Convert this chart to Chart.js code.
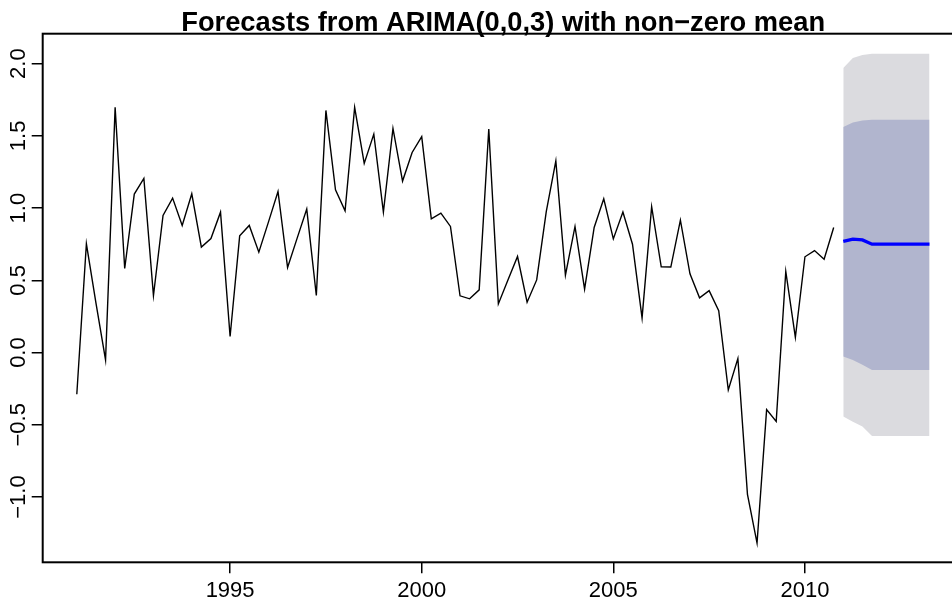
<!DOCTYPE html>
<html>
<head>
<meta charset="utf-8">
<script src="https://cdn.jsdelivr.net/npm/chart.js@4.4.1/dist/chart.umd.min.js"></script>
<style>
html, body { margin: 0; padding: 0; background: #fff; overflow: hidden; }
#wrap { width: 967px; height: 603px; }
</style>
</head>
<body>
<div id="wrap"><canvas id="myChart" width="967" height="603"></canvas></div>
<script>
// Title and axis ticks
var chartTitle = 'Forecasts from ARIMA(0,0,3) with non\u2212zero mean';
var xTicks = [1995, 2000, 2005, 2010];
var yTicks = [-1, -0.5, 0, 0.5, 1, 1.5, 2];
var yTickLabels = ['\u22121.0', '\u22120.5', '0.0', '0.5', '1.0', '1.5', '2.0'];

// Quarterly series, starts 1991 Q1
var tsStart = 1991;
var tsFreq = 4;
var observed = [
    -0.288, 0.753, 0.342, -0.051, 1.697, 0.582, 1.097, 1.205,
    0.395, 0.949, 1.069, 0.880, 1.099, 0.730, 0.789, 0.972,
    0.111, 0.808, 0.880, 0.695, 0.903, 1.115, 0.589, 0.792,
    0.993, 0.395, 1.676, 1.127, 0.981, 1.697, 1.309, 1.512,
    0.972, 1.551, 1.187, 1.385, 1.494, 0.926, 0.965, 0.873,
    0.393, 0.372, 0.434, 1.547, 0.337, 0.503, 0.665, 0.349,
    0.503, 0.976, 1.327, 0.536, 0.873, 0.439, 0.866, 1.064,
    0.787, 0.973, 0.750, 0.240, 1.010, 0.594, 0.592, 0.916,
    0.545, 0.379, 0.429, 0.290, -0.259, -0.042, -0.981, -1.318,
    -0.395, -0.477, 0.562, 0.105, 0.663, 0.706, 0.646, 0.866
];

// Forecasts, starts 2011 Q1
var fcStart = 2011;
var fcMean = [0.769, 0.785, 0.780, 0.750, 0.750, 0.750, 0.750, 0.750, 0.750, 0.750];
var lo80 = [-0.028, -0.051, -0.085, -0.120, -0.120, -0.120, -0.120, -0.120, -0.120, -0.120];
var hi80 = [1.561, 1.593, 1.607, 1.612, 1.612, 1.612, 1.612, 1.612, 1.612, 1.612];
var lo95 = [-0.443, -0.478, -0.512, -0.577, -0.577, -0.577, -0.577, -0.577, -0.577, -0.577];
var hi95 = [1.969, 2.039, 2.059, 2.069, 2.069, 2.069, 2.069, 2.069, 2.069, 2.069];

// Turn a value list into {x, y} points on the time axis
function toPoints(values, start) {
    return values.map(function(v, i) {
        return {x: start + i / tsFreq, y: v};
    });
}

var tickFont = {family: '"Liberation Sans", Arial, Helvetica, sans-serif', size: 22};

// Box, title and rotated y labels, like base R graphics
var rPlotDecor = {
    id: 'rPlotDecor',
    afterDraw: function(chart) {
        var ctx = chart.ctx;
        var a = chart.chartArea;
        ctx.save();
        ctx.strokeStyle = '#000';
        ctx.lineWidth = 2;
        ctx.strokeRect(a.left, a.top, a.right - a.left, a.bottom - a.top);

        ctx.fillStyle = '#000';
        ctx.font = 'bold 27.3px "Liberation Sans", Arial, Helvetica, sans-serif';
        ctx.textAlign = 'center';
        ctx.textBaseline = 'alphabetic';
        ctx.fillText(chartTitle, (a.left + a.right) / 2, 30.8);

        var ys = chart.scales.y;
        ctx.font = '22px "Liberation Sans", Arial, Helvetica, sans-serif';
        yTicks.forEach(function(v, i) {
            ctx.save();
            ctx.translate(a.left - 17.7, ys.getPixelForValue(v));
            ctx.rotate(-Math.PI / 2);
            ctx.fillText(yTickLabels[i], 0, 0);
            ctx.restore();
        });
        ctx.restore();
    }
};

var ctx = document.getElementById('myChart').getContext('2d');

var myChart = new Chart(ctx, {
    type: 'line',
    data: {
        datasets: [
            {
                label: 'lo95',
                data: toPoints(lo95, fcStart),
                borderWidth: 0,
                pointRadius: 0,
                fill: false,
                order: 5
            },
            {
                label: 'hi95',
                data: toPoints(hi95, fcStart),
                borderWidth: 0,
                pointRadius: 0,
                backgroundColor: '#DBDBDF',
                fill: '-1',
                order: 4
            },
            {
                label: 'lo80',
                data: toPoints(lo80, fcStart),
                borderWidth: 0,
                pointRadius: 0,
                fill: false,
                order: 3
            },
            {
                label: 'hi80',
                data: toPoints(hi80, fcStart),
                borderWidth: 0,
                pointRadius: 0,
                backgroundColor: '#B1B5CE',
                fill: '-1',
                order: 2
            },
            {
                label: 'observed',
                data: toPoints(observed, tsStart),
                borderColor: '#000000',
                borderWidth: 1.4,
                pointRadius: 0,
                fill: false,
                tension: 0,
                order: 1
            },
            {
                label: 'forecast',
                data: toPoints(fcMean, fcStart),
                borderColor: '#0000FF',
                borderWidth: 3.3,
                pointRadius: 0,
                fill: false,
                tension: 0,
                order: 0
            }
        ]
    },
    options: {
        responsive: false,
        devicePixelRatio: 1,
        animation: false,
        layout: {
            padding: {top: 33.7, right: 3.4, left: 0, bottom: 0}
        },
        plugins: {
            legend: {display: false},
            title: {display: false},
            tooltip: {enabled: false}
        },
        scales: {
            x: {
                type: 'linear',
                min: 1990.11,
                max: 2014.14,
                afterBuildTicks: function(scale) {
                    scale.ticks = xTicks.map(function(v) { return {value: v}; });
                },
                afterFit: function(scale) {
                    scale.height = 40.7;
                },
                grid: {
                    drawOnChartArea: false,
                    drawTicks: true,
                    tickLength: 11,
                    color: '#000',
                    lineWidth: 1.5
                },
                border: {display: false},
                ticks: {
                    color: '#000',
                    font: tickFont,
                    padding: 4,
                    maxRotation: 0,
                    autoSkip: false,
                    callback: function(value) { return String(value); }
                }
            },
            y: {
                type: 'linear',
                min: -1.4515,
                max: 2.207,
                afterBuildTicks: function(scale) {
                    scale.ticks = yTicks.map(function(v) { return {value: v}; });
                },
                afterFit: function(scale) {
                    scale.width = 42.7;
                },
                grid: {
                    drawOnChartArea: false,
                    drawTicks: true,
                    tickLength: 11,
                    color: '#000',
                    lineWidth: 1.5
                },
                border: {display: false},
                ticks: {display: false}
            }
        }
    },
    plugins: [rPlotDecor]
});
</script>
</body>
</html>
